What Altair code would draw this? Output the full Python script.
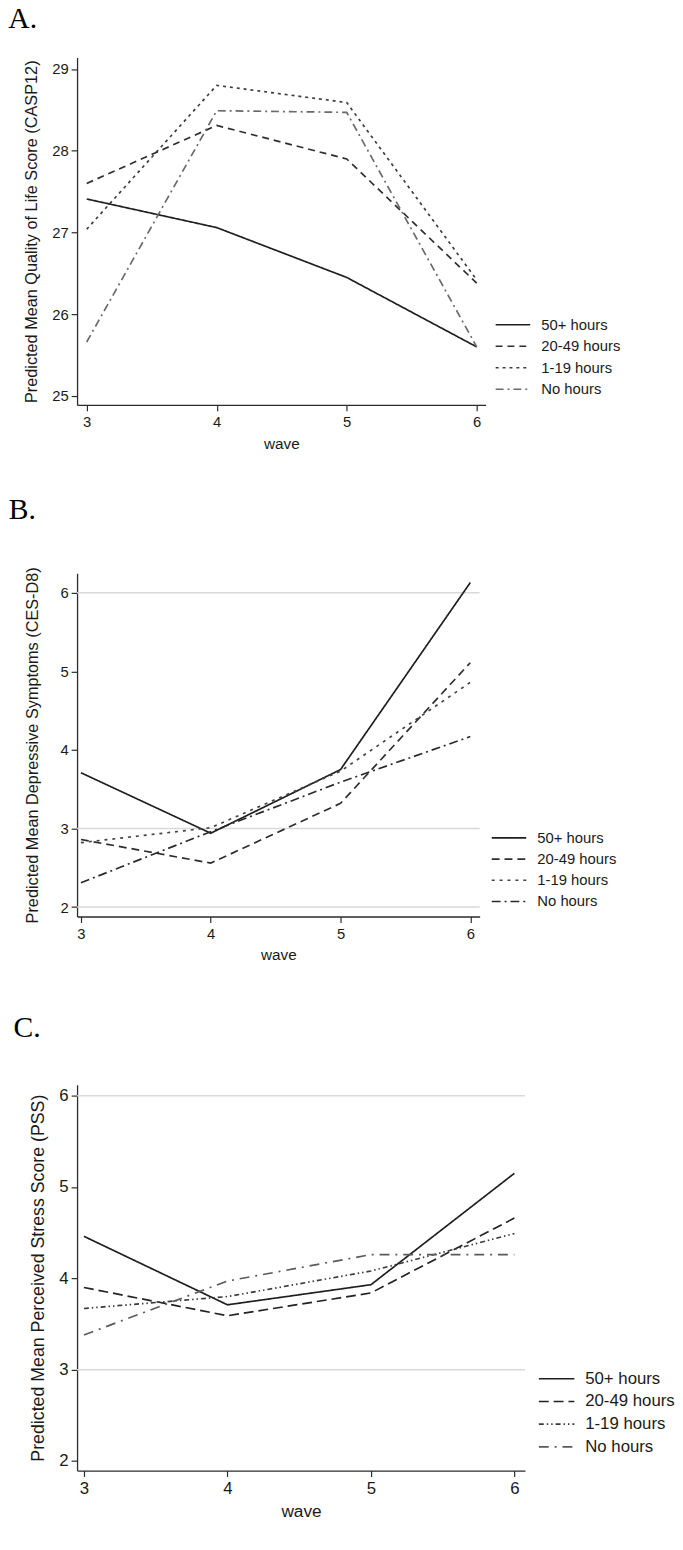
import altair as alt
import pandas as pd

waves = [3, 4, 5, 6]
groups = ["50+ hours", "20-49 hours", "1-19 hours", "No hours"]

# Panel A: CASP12
a_50 = [27.41, 27.06, 26.45, 25.60]
a_20 = [27.60, 28.31, 27.90, 26.38]
a_1 = [27.04, 28.80, 28.59, 26.42]
a_no = [25.66, 28.49, 28.47, 25.60]

# Panel B: CES-D8
b_50 = [3.71, 2.94, 3.75, 6.13]
b_20 = [2.86, 2.56, 3.32, 5.11]
b_1 = [2.82, 3.01, 3.73, 4.86]
b_no = [2.31, 2.96, 3.59, 4.17]

# Panel C: PSS
c_50 = [4.46, 3.71, 3.93, 5.15]
c_20 = [3.90, 3.59, 3.84, 4.66]
c_1 = [3.67, 3.80, 4.08, 4.49]
c_no = [3.38, 3.97, 4.26, 4.26]

a_ticks = [25, 26, 27, 28, 29]
b_ticks = [2, 3, 4, 5, 6]
c_ticks = [2, 3, 4, 5, 6]
b_grid = [2, 3, 6]
c_grid = [3, 6]

FONT = "Liberation Sans"
SERIF = "Liberation Serif"
AXC = "#2b2b2b"
LEGEND_LINE = "M-1,0H3"


def frame(series):
    rows = []
    for g, vals in zip(groups, series):
        for w, v in zip(waves, vals):
            rows.append({"wave": w, "group": g, "value": v})
    return pd.DataFrame(rows)


def panel(letter, df, ytitle, xdom, ydom, yticks, grid_vals, w, h, toff,
          dashes, colors, fs, tfs, ypad, leg_x, leg_y, sym_size, leg_fs, row_pad, lab_off):
    xscale = alt.Scale(domain=xdom, nice=False, zero=False)
    yscale = alt.Scale(domain=ydom, nice=False, zero=False)
    xaxis = alt.Axis(values=waves, format="d", title="wave", grid=False,
                     labelFontSize=fs, titleFontSize=fs + 0.5,
                     labelPadding=4, titlePadding=7)
    yaxis = alt.Axis(values=yticks, format="d", title=ytitle, grid=False,
                     labelFontSize=fs, titleFontSize=tfs,
                     labelPadding=3, titlePadding=ypad)
    leg = alt.Legend(orient="none", legendX=leg_x, legendY=leg_y, title=None,
                     symbolType=LEGEND_LINE, symbolSize=sym_size, symbolStrokeWidth=1.7,
                     labelFontSize=leg_fs, labelFont=FONT, labelColor="#1a1a1a",
                     labelOffset=lab_off, rowPadding=row_pad, padding=0)
    lines = alt.Chart(df).mark_line(strokeWidth=1.7).encode(
        x=alt.X("wave:Q", scale=xscale, axis=xaxis),
        y=alt.Y("value:Q", scale=yscale, axis=yaxis),
        color=alt.Color("group:N", scale=alt.Scale(domain=groups, range=colors), legend=leg),
        strokeDash=alt.StrokeDash("group:N", scale=alt.Scale(domain=groups, range=dashes), legend=leg),
        order=alt.Order("wave:Q"),
    )
    layers = []
    if grid_vals:
        grid = alt.Chart(pd.DataFrame({"g": grid_vals})).mark_rule(
            color="#d9d9d9", strokeWidth=1.5).encode(
            y=alt.Y("g:Q", scale=yscale, axis=yaxis))
        layers.append(grid)
    layers.append(lines)
    return alt.layer(*layers).properties(
        width=w, height=h,
        title=alt.TitleParams(letter, anchor="start", font=SERIF, fontSize=30,
                              fontWeight="normal", color="#000000", offset=toff, dx=-16),
    )


pa = panel("A.", frame([a_50, a_20, a_1, a_no]),
           "Predicted Mean Quality of Life Score (CASP12)",
           [2.926, 6.068], [24.89, 29.14], a_ticks, [], 414, 352, 24,
           [[1, 0], [7, 5], [3, 4], [8, 4, 2, 4]],
           ["#1e1e1e", "#2e2e2e", "#3c3c3c", "#6a6a6a"],
           15, 16.5, 12, 423, 260.75, 306, 15, 3.8, 27.5)

pb = panel("B.", frame([b_50, b_20, b_1, b_no]),
           "Predicted Mean Depressive Symptoms (CES-D8)",
           [2.97, 6.072], [1.88, 6.25], b_ticks, b_grid, 408, 348, 42,
           [[1, 0], [8, 5], [3, 5], [9, 4, 2, 4]],
           ["#1e1e1e", "#2e2e2e", "#444444", "#2a2a2a"],
           15, 16.5, 20, 419, 258.25, 306, 15, 3.5, 27.5)

pc = panel("C.", frame([c_50, c_20, c_1, c_no]),
           "Predicted Mean Perceived Stress Score (PSS)",
           [2.952, 6.074], [1.895, 6.12], c_ticks, c_grid, 454, 391, 42,
           [[1, 0], [10, 5], [5, 3, 1.5, 3, 1.5, 3], [10, 6, 2, 6]],
           ["#1e1e1e", "#222222", "#3a3a3a", "#5a5a5a"],
           17, 18, 12, 467, 288, 324, 17, 5.0, 28)

chart = alt.vconcat(pa, pb, pc, spacing=170.5, bounds="flush").resolve_scale(
    color="independent", strokeDash="independent").resolve_legend(
    color="independent", strokeDash="independent").properties(
    padding={"left": 0, "top": -14, "right": 0, "bottom": 0},
    background="white",
).configure_view(stroke=None).configure_axis(
    domainColor=AXC, domainWidth=1.3, tickColor=AXC, tickWidth=1.2, tickSize=6,
    labelColor="#1a1a1a", titleColor="#1a1a1a", labelFont=FONT, titleFont=FONT,
    titleFontWeight="normal",
)

chart.save("out.html", embed_options={"renderer": "svg", "actions": False})
